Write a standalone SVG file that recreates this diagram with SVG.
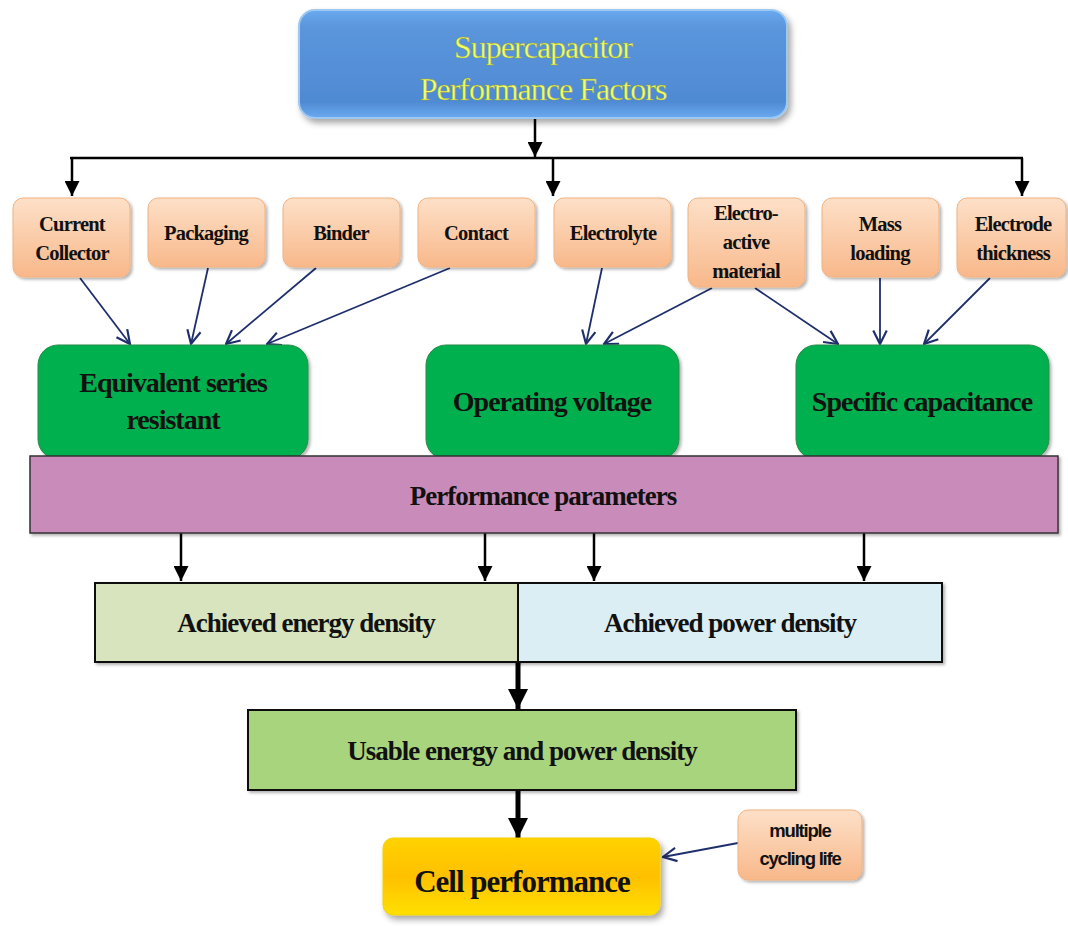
<svg xmlns="http://www.w3.org/2000/svg" width="1068" height="926" viewBox="0 0 1068 926">
<defs>
  <linearGradient id="gBlue" x1="0" y1="0" x2="0" y2="1">
    <stop offset="0" stop-color="#6aaaf0"/>
    <stop offset="0.15" stop-color="#5b96dc"/>
    <stop offset="0.85" stop-color="#4f8ad3"/>
    <stop offset="1" stop-color="#6aaaf0"/>
  </linearGradient>
  <linearGradient id="gPeach" x1="0" y1="0" x2="0" y2="1">
    <stop offset="0" stop-color="#fde0c8"/>
    <stop offset="1" stop-color="#f8b88a"/>
  </linearGradient>
  <linearGradient id="gYellow" x1="0" y1="0" x2="0" y2="1">
    <stop offset="0" stop-color="#ffd200"/>
    <stop offset="0.5" stop-color="#ffc000"/>
    <stop offset="1" stop-color="#ffe000"/>
  </linearGradient>
  <filter id="sh" x="-10%" y="-10%" width="125%" height="135%">
    <feDropShadow dx="3" dy="4" stdDeviation="3" flood-color="#000" flood-opacity="0.35"/>
  </filter>
  <filter id="shs" x="-10%" y="-10%" width="125%" height="135%">
    <feDropShadow dx="2" dy="2" stdDeviation="1.5" flood-color="#000" flood-opacity="0.3"/>
  </filter>
  <marker id="ab" viewBox="0 0 10 10" refX="10" refY="5" markerWidth="6" markerHeight="6" markerUnits="strokeWidth" orient="auto">
    <path d="M0,0 L10,5 L0,10 z" fill="#000"/>
  </marker>
  <marker id="abig" viewBox="0 0 10 10" refX="10" refY="5" markerWidth="4" markerHeight="4" markerUnits="strokeWidth" orient="auto">
    <path d="M0,0 L10,5 L0,10 z" fill="#000"/>
  </marker>
  <marker id="an" viewBox="0 0 12 12" refX="11" refY="6" markerWidth="9" markerHeight="9" markerUnits="strokeWidth" orient="auto">
    <path d="M1,1 L11,6 L1,11" fill="none" stroke="#1f2f6b" stroke-width="1.6"/>
  </marker>
  <style>
    .peach{fill:url(#gPeach);stroke:#f2b27f;stroke-width:1;filter:url(#shs)}
    .green{fill:#00b050;stroke:#2a8a4a;stroke-width:1;filter:url(#shs)}
    .pt{font-family:"Liberation Serif",serif;font-weight:bold;font-size:20.5px;fill:#111;text-anchor:middle;letter-spacing:-0.8px}
    .gt{font-family:"Liberation Serif",serif;font-weight:bold;font-size:28px;fill:#111;text-anchor:middle;letter-spacing:-1px}
    .bt{font-family:"Liberation Serif",serif;font-weight:bold;font-size:27px;fill:#111;text-anchor:middle;letter-spacing:-1px}
    .blk{stroke:#000;stroke-width:2.5;fill:none}
    .nav{stroke:#1f2f6b;stroke-width:1.8;fill:none}
  </style>
</defs>
<rect width="1068" height="926" fill="#fff"/>

<g id="connectors">
  <line class="blk" x1="535" y1="118" x2="535" y2="157" marker-end="url(#ab)"/>
  <line class="blk" x1="70" y1="158" x2="1023" y2="158"/>
  <line class="blk" x1="72" y1="158" x2="72" y2="196" marker-end="url(#ab)"/>
  <line class="blk" x1="553" y1="158" x2="553" y2="196" marker-end="url(#ab)"/>
  <line class="blk" x1="1022" y1="158" x2="1022" y2="196" marker-end="url(#ab)"/>

  <line class="nav" x1="80" y1="278" x2="130" y2="344" marker-end="url(#an)"/>
  <line class="nav" x1="208" y1="268" x2="191" y2="344" marker-end="url(#an)"/>
  <line class="nav" x1="316" y1="268" x2="226" y2="344" marker-end="url(#an)"/>
  <line class="nav" x1="450" y1="268" x2="267" y2="344" marker-end="url(#an)"/>
  <line class="nav" x1="602" y1="268" x2="586" y2="344" marker-end="url(#an)"/>
  <line class="nav" x1="712" y1="288" x2="604" y2="344" marker-end="url(#an)"/>
  <line class="nav" x1="755" y1="288" x2="838" y2="344" marker-end="url(#an)"/>
  <line class="nav" x1="880" y1="278" x2="880" y2="344" marker-end="url(#an)"/>
  <line class="nav" x1="990" y1="278" x2="924" y2="344" marker-end="url(#an)"/>

  <line class="blk" x1="181" y1="533" x2="181" y2="581" marker-end="url(#ab)"/>
  <line class="blk" x1="485" y1="533" x2="485" y2="581" marker-end="url(#ab)"/>
  <line class="blk" x1="594" y1="533" x2="594" y2="581" marker-end="url(#ab)"/>
  <line class="blk" x1="864" y1="533" x2="864" y2="581" marker-end="url(#ab)"/>

  <line x1="518" y1="662" x2="518" y2="709" stroke="#000" stroke-width="5" marker-end="url(#abig)"/>
  <line x1="518" y1="790" x2="518" y2="838" stroke="#000" stroke-width="5" marker-end="url(#abig)"/>
  <line class="nav" x1="738" y1="843" x2="663" y2="857" marker-end="url(#an)"/>
</g>

<g id="title">
  <rect x="299" y="10" width="488" height="108" rx="16" fill="url(#gBlue)" stroke="#9cc8f2" stroke-width="2" filter="url(#sh)"/>
  <text x="543" y="58" font-family="Liberation Serif, serif" font-size="32" fill="#f2ff66" stroke="#8a9a40" stroke-width="0.4" text-anchor="middle" letter-spacing="-1">Supercapacitor</text>
  <text x="543" y="100" font-family="Liberation Serif, serif" font-size="32" fill="#f2ff66" stroke="#8a9a40" stroke-width="0.4" text-anchor="middle" letter-spacing="-1">Performance Factors</text>
</g>

<g id="current-collector">
  <rect class="peach" x="13" y="198" width="117" height="79" rx="10"/>
  <text class="pt" x="72" y="231">Current</text>
  <text class="pt" x="72" y="260">Collector</text>
</g>
<g id="packaging">
  <rect class="peach" x="148" y="198" width="117" height="69" rx="10"/>
  <text class="pt" x="206" y="240">Packaging</text>
</g>
<g id="binder">
  <rect class="peach" x="283" y="198" width="117" height="69" rx="10"/>
  <text class="pt" x="341" y="240">Binder</text>
</g>
<g id="contact">
  <rect class="peach" x="418" y="198" width="117" height="69" rx="10"/>
  <text class="pt" x="476" y="240">Contact</text>
</g>
<g id="electrolyte">
  <rect class="peach" x="554" y="198" width="117" height="69" rx="10"/>
  <text class="pt" x="613" y="240">Electrolyte</text>
</g>
<g id="electroactive">
  <rect class="peach" x="688" y="198" width="117" height="89" rx="10"/>
  <text class="pt" x="746" y="220">Electro-</text>
  <text class="pt" x="746" y="249">active</text>
  <text class="pt" x="746" y="278">material</text>
</g>
<g id="mass-loading">
  <rect class="peach" x="822" y="198" width="117" height="79" rx="10"/>
  <text class="pt" x="880" y="231">Mass</text>
  <text class="pt" x="880" y="260">loading</text>
</g>
<g id="electrode-thickness">
  <rect class="peach" x="957" y="198" width="109" height="79" rx="10"/>
  <text class="pt" x="1013" y="231">Electrode</text>
  <text class="pt" x="1013" y="260">thickness</text>
</g>

<g id="esr">
  <rect class="green" x="38" y="345" width="270" height="114" rx="20"/>
  <text class="gt" x="173" y="392">Equivalent series</text>
  <text class="gt" x="173" y="429">resistant</text>
</g>
<g id="operating-voltage">
  <rect class="green" x="426" y="345" width="253" height="114" rx="20"/>
  <text class="gt" x="552" y="411">Operating voltage</text>
</g>
<g id="specific-capacitance">
  <rect class="green" x="796" y="345" width="253" height="114" rx="20"/>
  <text class="gt" x="922" y="411">Specific capacitance</text>
</g>

<g id="performance-parameters">
  <rect x="30" y="456" width="1028" height="77" fill="#c98bb9" stroke="#333" stroke-width="1.5" filter="url(#shs)"/>
  <text class="bt" x="543" y="505">Performance parameters</text>
</g>

<g id="energy-density">
  <rect x="95" y="583" width="423" height="79" fill="#d7e4bd" stroke="#111" stroke-width="2" filter="url(#shs)"/>
  <text class="bt" x="306" y="632">Achieved energy density</text>
</g>
<g id="power-density">
  <rect x="518" y="583" width="424" height="79" fill="#dbeef4" stroke="#111" stroke-width="2" filter="url(#shs)"/>
  <text class="bt" x="730" y="632">Achieved power density</text>
</g>

<g id="usable">
  <rect x="248" y="710" width="548" height="80" fill="#a9d47e" stroke="#111" stroke-width="2" filter="url(#shs)"/>
  <text class="bt" x="522" y="760">Usable energy and power density</text>
</g>

<g id="cell-performance">
  <rect x="383" y="838" width="277" height="77" rx="10" fill="url(#gYellow)" stroke="#f5d000" stroke-width="1" filter="url(#sh)"/>
  <text x="522" y="892" font-family="Liberation Serif, serif" font-weight="bold" font-size="31" fill="#111" text-anchor="middle" letter-spacing="-1">Cell performance</text>
</g>

<g id="cycling-life">
  <rect class="peach" x="738" y="810" width="124" height="70" rx="10"/>
  <text x="800" y="837" font-family="Liberation Sans, sans-serif" font-weight="bold" font-size="18.5" fill="#111" text-anchor="middle" letter-spacing="-1.2">multiple</text>
  <text x="800" y="865" font-family="Liberation Sans, sans-serif" font-weight="bold" font-size="18.5" fill="#111" text-anchor="middle" letter-spacing="-1.2">cycling life</text>
</g>
</svg>
